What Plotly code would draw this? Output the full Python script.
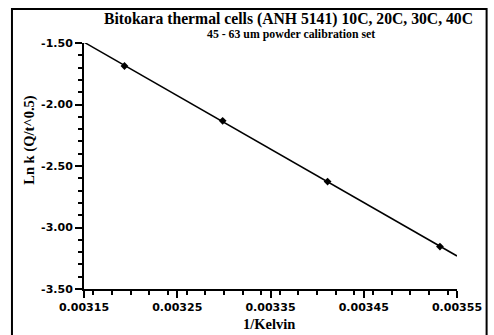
import numpy as np
import plotly.graph_objects as go

# Data: 1/T (K^-1) for 40C, 30C, 20C, 10C and ln k
inv_kelvin = [0.0031934, 0.0032987, 0.0034112, 0.0035317]
ln_k = [-1.687, -2.133, -2.627, -3.155]
x_range = [0.00315, 0.00355]
y_range = [-3.50, -1.50]
x_ticks = [0.00315, 0.00325, 0.00335, 0.00345, 0.00355]
x_tick_labels = ["0.00315", "0.00325", "0.00335", "0.00345", "0.00355"]
y_ticks = [-3.50, -3.00, -2.50, -2.00, -1.50]
y_tick_labels = ["-3.50", "-3.00", "-2.50", "-2.00", "-1.50"]

title_text = "Bitokara thermal cells (ANH 5141) 10C, 20C, 30C, 40C"
subtitle_text = "45 - 63 um powder calibration set"
x_title = "1/Kelvin"
y_title = "Ln k (Q/t^0.5)"

# linear regression line across the axis range
slope, intercept = np.polyfit(inv_kelvin, ln_k, 1)
fit_x = np.array(x_range)
fit_y = slope * fit_x + intercept

W, H = 494, 335
L, R, T, B = 84, 462, 43, 289  # plot area pixels


def px(xp):
    return (xp - L) / (R - L)


def py(yp):
    return (B - yp) / (B - T)


fig = go.Figure()
fig.add_trace(go.Scatter(x=fit_x, y=fit_y, mode="lines",
                         line=dict(color="black", width=1.5),
                         hoverinfo="skip", showlegend=False))
fig.add_trace(go.Scatter(x=inv_kelvin, y=ln_k, mode="markers",
                         marker=dict(symbol="diamond", size=6, color="black"),
                         showlegend=False))

serif = "Liberation Serif"

fig.update_layout(
    width=W, height=H,
    margin=dict(l=L, r=W - R, t=T, b=H - B),
    paper_bgcolor="white", plot_bgcolor="white",
    xaxis=dict(range=x_range, tickvals=x_ticks, ticktext=x_tick_labels,
               showgrid=False, zeroline=False, showline=True,
               linecolor="black", linewidth=1.5,
               ticks="outside", ticklen=7, tickwidth=1.5, tickcolor="black",
               tickfont=dict(family="DejaVu Sans", size=11, color="black", weight="bold"),
               minor=dict(dtick=0.00002, ticks="outside", ticklen=4,
                          tickwidth=1.5, tickcolor="black", showgrid=False)),
    yaxis=dict(range=y_range, tickvals=y_ticks, ticktext=y_tick_labels,
               showgrid=False, zeroline=False, showline=True,
               linecolor="black", linewidth=2,
               ticks="outside", ticklen=7, tickwidth=1.5, tickcolor="black",
               tickfont=dict(family="DejaVu Sans", size=11, color="black", weight="bold"),
               minor=dict(dtick=0.1, ticks="outside", ticklen=4,
                          tickwidth=1.5, tickcolor="black", showgrid=False)),
    annotations=[
        dict(text=title_text, xref="paper", yref="paper",
             x=px(291), y=py(19), xanchor="center", yanchor="middle",
             showarrow=False,
             font=dict(family=serif, size=15.7, color="black", weight="bold")),
        dict(text=subtitle_text, xref="paper", yref="paper",
             x=px(294), y=py(34), xanchor="center", yanchor="middle",
             showarrow=False,
             font=dict(family=serif, size=11.8, color="black", weight="bold")),
        dict(text=x_title, xref="paper", yref="paper",
             x=px(271), y=py(324), xanchor="center", yanchor="middle",
             showarrow=False,
             font=dict(family=serif, size=14.5, color="black", weight="bold")),
        dict(text=y_title, xref="paper", yref="paper",
             x=px(28), y=py(140), xanchor="center", yanchor="middle",
             textangle=-90, showarrow=False,
             font=dict(family=serif, size=14.5, color="black", weight="bold")),
    ],
    shapes=[
        dict(type="rect", xref="paper", yref="paper",
             x0=px(11), x1=px(492), y0=py(345), y1=py(9),
             line=dict(color="black", width=2), fillcolor="rgba(0,0,0,0)",
             layer="below"),
    ],
)

fig.write_html("out.html")
